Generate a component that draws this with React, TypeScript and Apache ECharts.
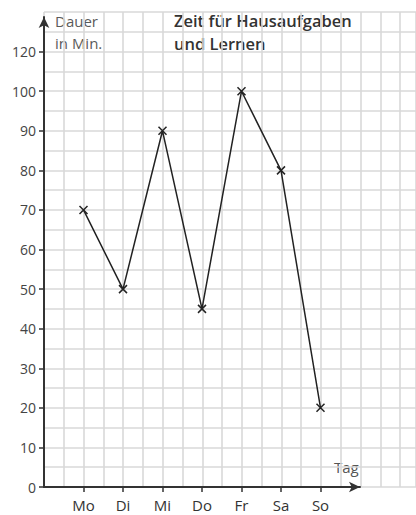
import React, { useEffect, useRef } from "react";
import * as echarts from "echarts";

const days = ["Mo", "Di", "Mi", "Do", "Fr", "Sa", "So"];
const minutes = [70, 50, 90, 45, 100, 80, 20];
const yTickPositions = [0, 10, 20, 30, 40, 50, 60, 70, 80, 90, 100, 110];
const yTickLabels = ["0", "10", "20", "30", "40", "50", "60", "70", "80", "90", "100", "120"];
const dayPositions = [1, 2, 3, 4, 5, 6, 7];

const FONT = "'Open Sans', 'Noto Sans', sans-serif";

export default function App() {
  const ref = useRef<HTMLDivElement>(null);
  useEffect(() => {
    document.body.style.margin = "0";
    const chart = echarts.init(ref.current!, null, { renderer: "svg" });
    const gridLine = { show: true, lineStyle: { color: "#d9d9d9", width: 1.6 } };
    const axisStyle = { color: "#333", width: 2 };
    chart.setOption({
      animation: false,
      backgroundColor: "#fff",
      textStyle: { fontFamily: FONT },
      grid: [
        { left: 44, right: 0, top: 12, bottom: 28 },
        { left: 44, right: 56, top: 17, bottom: 28 },
      ],
      xAxis: [
        {
          gridIndex: 0, type: "value", min: 0, max: 9.4, interval: 0.5,
          axisLine: { show: false }, axisTick: { show: false }, axisLabel: { show: false },
          splitLine: gridLine,
        },
        {
          gridIndex: 1, type: "value", min: 0, max: 8,
          axisLine: { show: true, lineStyle: axisStyle, symbol: ["none", "arrow"], symbolSize: [8, 11] },
          axisTick: { show: true, length: 5, lineStyle: { color: "#333", width: 1.5 }, customValues: dayPositions },
          axisLabel: {
            show: true, customValues: dayPositions, margin: 10, fontSize: 15, color: "#333", fontFamily: FONT,
            formatter: (v: number) => days[Math.round(v) - 1] ?? "",
          },
          splitLine: { show: false },
        },
      ],
      yAxis: [
        {
          gridIndex: 0, type: "value", min: 0, max: 120, interval: 5,
          axisLine: { show: false }, axisTick: { show: false }, axisLabel: { show: false },
          splitLine: gridLine,
        },
        {
          gridIndex: 1, type: "value", min: 0, max: 118.75,
          axisLine: { show: true, onZero: false, lineStyle: axisStyle, symbol: ["none", "arrow"], symbolSize: [8, 11] },
          axisTick: { show: true, length: 5, lineStyle: { color: "#333", width: 1.5 }, customValues: yTickPositions },
          axisLabel: {
            show: true, customValues: yTickPositions, margin: 8, fontSize: 14, color: "#444", fontFamily: FONT,
            formatter: (v: number) => yTickLabels[yTickPositions.indexOf(Math.round(v))] ?? "",
          },
          splitLine: { show: false },
        },
      ],
      series: [
        {
          type: "line",
          xAxisIndex: 1,
          yAxisIndex: 1,
          data: minutes.map((m, i) => [dayPositions[i], m]),
          symbol: "path://M0,0L10,10M10,0L0,10",
          symbolSize: 8,
          lineStyle: { color: "#222", width: 1.5 },
          itemStyle: { color: "#222", borderColor: "#222", borderWidth: 1.5 },
        },
      ],
      graphic: [
        {
          type: "text", left: 55, top: 10,
          style: { text: "Dauer\nin Min.", fontSize: 15, lineHeight: 22, fill: "#5a5a5a", fontFamily: FONT },
        },
        {
          type: "text", left: 174, top: 9,
          style: { text: "Zeit für Hausaufgaben\nund Lernen", fontSize: 16.5, fontWeight: 600, lineHeight: 23, fill: "#333", fontFamily: FONT },
        },
        {
          type: "text", left: 334, top: 459,
          style: { text: "Tag", fontSize: 15, fill: "#555", fontFamily: FONT },
        },
      ],
    });
    return () => chart.dispose();
  }, []);
  return <div ref={ref} style={{ width: 416, height: 515 }} />;
}
